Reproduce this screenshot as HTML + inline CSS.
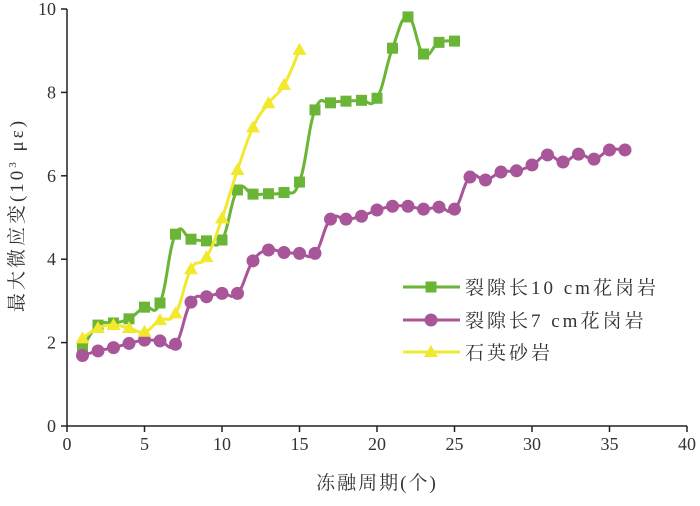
<!DOCTYPE html>
<html><head><meta charset="utf-8"><style>
body{margin:0;background:#fff}
svg text{font-family:"Liberation Serif","Noto Serif CJK SC",serif;fill:#333}
</style></head><body>
<svg id="c" width="700" height="501" viewBox="0 0 700 501"></svg>
<script>
const xTicks=[0,5,10,15,20,25,30,35,40];
const yTicks=[0,2,4,6,8,10];
const greenX=[1,2,3,4,5,6,7,8,9,10,11,12,13,14,15,16,17,18,19,20,21,22,23,24,25];
const greenY=[1.87,2.42,2.47,2.57,2.85,2.95,4.6,4.48,4.44,4.46,5.66,5.56,5.57,5.6,5.85,7.58,7.75,7.79,7.81,7.86,9.06,9.81,8.92,9.2,9.23];
const purpleX=[1,2,3,4,5,6,7,8,9,10,11,12,13,14,15,16,17,18,19,20,21,22,23,24,25,26,27,28,29,30,31,32,33,34,35,36];
const purpleY=[1.69,1.8,1.88,1.98,2.06,2.04,1.96,2.97,3.1,3.18,3.18,3.96,4.22,4.16,4.14,4.14,4.96,4.96,5.03,5.18,5.27,5.27,5.2,5.25,5.2,5.97,5.9,6.09,6.12,6.26,6.5,6.33,6.52,6.4,6.62,6.62];
const yellowX=[1,2,3,4,5,6,7,8,9,10,11,12,13,14,15];
const yellowY=[2.1,2.35,2.42,2.35,2.26,2.54,2.7,3.76,4.05,4.98,6.14,7.16,7.74,8.18,9.02];
const seriesNames=["裂隙长10 cm花岗岩","裂隙长7 cm花岗岩","石英砂岩"];

const NS="http://www.w3.org/2000/svg";
const svg=document.getElementById('c');
const X0=67,X1=687,Y0=426,Y1=9;
const sx=v=>X0+(v-0)/(40-0)*(X1-X0);
const sy=v=>Y0-(v-0)/(10-0)*(Y0-Y1);
function mk(tag,attrs,parent){const e=document.createElementNS(NS,tag);for(const k in attrs)e.setAttribute(k,attrs[k]);(parent||svg).appendChild(e);return e;}

let ax=mk('path',{d:`M${X0},${Y1}V${Y0}H${X1}`,stroke:'#222','stroke-width':1.5,fill:'none'});


xTicks.forEach(t=>{
  let l=mk('line',{x1:sx(t),x2:sx(t),y1:Y0,y2:Y0+6,stroke:'#222','stroke-width':1.5});
  
  
  let tx=mk('text',{x:sx(t),y:Y0+24,'text-anchor':'middle','font-size':18});
  tx.textContent=t;
  
  
});
yTicks.forEach(t=>{
  let l=mk('line',{x1:X0-6,x2:X0,y1:sy(t),y2:sy(t),stroke:'#222','stroke-width':1.5});
  
  
  let tx=mk('text',{x:X0-11,y:sy(t)+6,'text-anchor':'end','font-size':18});
  tx.textContent=t;
  
  
});
let xt=mk('text',{x:377,y:489,'text-anchor':'middle','font-size':19,'letter-spacing':2});
xt.textContent='冻融周期(个)';


let yt=mk('text',{x:0,y:0,'text-anchor':'middle','font-size':19,'letter-spacing':3,transform:'translate(23,215) rotate(-90)'});
yt.innerHTML='最大微应变(10<tspan font-size="11" dy="-7">3</tspan><tspan dy="7"> με)</tspan>';



function smooth(xs,ys){
  const p=xs.map((x,i)=>[sx(x),sy(ys[i])]);
  let d=`M${p[0][0]},${p[0][1]}`;
  for(let i=0;i<p.length-1;i++){
    const a=p[i-1]||p[i],b=p[i],c=p[i+1],e=p[i+2]||p[i+1];
    const t=0.22;
    d+=` C${b[0]+(c[0]-a[0])*t},${b[1]+(c[1]-a[1])*t} ${c[0]-(e[0]-b[0])*t},${c[1]-(e[1]-b[1])*t} ${c[0]},${c[1]}`;
  }
  return d;
}
function marker(type,x,y,col,name){
  let m;
  if(type==='sq')m=mk('rect',{x:x-5.5,y:y-5.5,width:11,height:11,fill:col});
  else if(type==='ci')m=mk('circle',{cx:x,cy:y,r:6.5,fill:col});
  else m=mk('path',{d:`M${x},${y-7}L${x+7},${y+5}L${x-7},${y+5}Z`,fill:col});
  
  
}
const series=[[greenX,greenY,'#6ab536','sq','green-point'],[purpleX,purpleY,'#a8559a','ci','purple-point'],[yellowX,yellowY,'#f2e830','tr','yellow-point']];
const lineNames=['line-crack-10cm-granite','line-crack-7cm-granite','line-quartz-sandstone'];
series.forEach((s,k)=>{
  let p=mk('path',{d:smooth(s[0],s[1]),stroke:s[2],'stroke-width':3,fill:'none'});
  
  
  s[0].forEach((x,i)=>marker(s[3],sx(x),sy(s[1][i]),s[2],s[4]));
});
const ly=[287,320,352];
series.forEach((s,k)=>{
  let l=mk('line',{x1:403,x2:460,y1:ly[k],y2:ly[k],stroke:s[2],'stroke-width':3});
  
  
  marker(s[3],431,ly[k],s[2],'legend-marker');
  let t=mk('text',{x:465,y:ly[k]+7,'font-size':19,'letter-spacing':3});
  t.textContent=seriesNames[k];
  
  
});
</script>
</body></html>
